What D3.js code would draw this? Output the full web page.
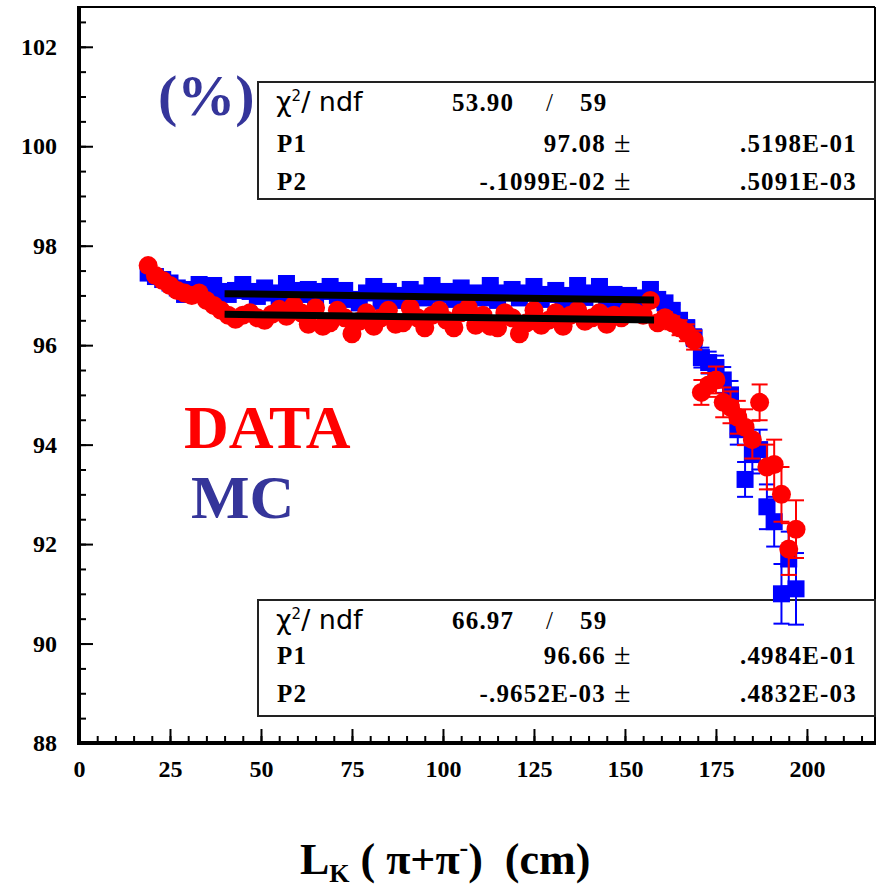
<!DOCTYPE html>
<html>
    <head>
    <meta charset="utf-8">
        <style>
            body { margin: 0; background: white; }
            .tick text {
                font-family: "Liberation Serif", serif;
                font-weight: bold;
                font-size: 24px;
                fill: black;
            }
            .tick line { stroke: black; stroke-width: 2; }
            .stat { font-family: "Liberation Serif", serif; font-weight: bold; font-size: 25px; letter-spacing: 1.2px; }
        </style>
        <script src="https://d3js.org/d3.v7.min.js"></script>
    </head>
    <body>
        <div id="my_dataviz"></div>
        <script>

            // bin centres (cm)
            var binCenters = [19,21,23,25,27,29,31,33,35,37,
                              39,41,43,45,47,49,51,53,55,57,
                              59,61,63,65,67,69,71,73,75,77,
                              79,81,83,85,87,89,91,93,95,97,
                              99,101,103,105,107,109,111,113,115,117,
                              119,121,123,125,127,129,131,133,135,137,
                              139,141,143,145,147,149,151,153,155,157,
                              159,161,163,165,167,169,171,173,175,177,
                              179,181,183,185,187,189,191,193,195,197];

            // MC efficiency (%)
            var mcValues = [97.45,97.38,97.32,97.25,97.15,97.02,97.12,97.22,97.05,97.20,
                            97.08,97.02,97.10,97.22,97.08,96.98,97.15,97.05,96.95,97.24,
                            97.10,97.02,97.12,96.95,97.08,97.18,97.00,97.10,96.92,96.85,
                            97.05,97.18,96.88,97.08,97.00,96.90,97.12,97.05,96.95,97.20,
                            97.02,97.08,96.92,97.15,97.00,97.05,96.95,97.20,96.90,97.05,
                            97.12,96.95,97.05,97.18,96.92,97.02,97.10,96.86,97.00,97.20,
                            96.96,97.05,97.18,96.92,97.02,96.90,97.00,96.86,96.95,97.12,
                            96.92,96.85,96.70,96.50,96.35,96.15,95.75,95.65,95.55,95.30,
                            95.00,94.30,93.30,93.80,93.90,92.75,92.45,91.00,91.70,91.10];
            var mcErrors = [0.06,0.06,0.06,0.06,0.06,0.06,0.06,0.06,0.06,0.06,
                            0.06,0.06,0.06,0.06,0.06,0.06,0.06,0.06,0.06,0.06,
                            0.06,0.06,0.06,0.06,0.06,0.06,0.06,0.06,0.06,0.06,
                            0.06,0.06,0.06,0.06,0.06,0.06,0.06,0.06,0.06,0.06,
                            0.06,0.06,0.06,0.06,0.06,0.06,0.06,0.06,0.06,0.06,
                            0.06,0.06,0.06,0.06,0.06,0.06,0.06,0.06,0.06,0.06,
                            0.06,0.06,0.06,0.06,0.06,0.07,0.07,0.07,0.07,0.08,
                            0.08,0.10,0.12,0.13,0.15,0.17,0.20,0.22,0.24,0.26,
                            0.28,0.30,0.35,0.38,0.40,0.45,0.50,0.60,0.55,0.72];

            // DATA efficiency (%)
            var dataValues = [97.60,97.40,97.30,97.20,97.10,97.05,97.00,97.05,96.90,96.80,
                              96.70,96.60,96.52,96.60,96.65,96.55,96.50,96.62,96.72,96.58,
                              96.80,96.65,96.42,96.75,96.38,96.45,96.70,96.55,96.23,96.48,
                              96.65,96.38,96.55,96.70,96.42,96.45,96.75,96.55,96.35,96.60,
                              96.70,96.50,96.35,96.65,96.75,96.40,96.60,96.38,96.35,96.65,
                              96.55,96.23,96.45,96.70,96.40,96.50,96.65,96.38,96.60,96.70,
                              96.48,96.55,96.65,96.42,96.60,96.55,96.70,96.65,96.60,96.90,
                              96.45,96.55,96.45,96.35,96.25,96.10,95.05,95.20,95.30,94.85,
                              94.75,94.55,94.35,94.10,94.85,93.55,93.60,93.00,91.90,92.30];
            var dataErrors = [0.07,0.07,0.07,0.07,0.07,0.07,0.07,0.07,0.07,0.07,
                              0.07,0.07,0.07,0.07,0.07,0.07,0.07,0.07,0.07,0.07,
                              0.07,0.07,0.07,0.07,0.07,0.07,0.07,0.07,0.07,0.07,
                              0.07,0.07,0.07,0.07,0.07,0.07,0.07,0.07,0.07,0.07,
                              0.07,0.07,0.07,0.07,0.07,0.07,0.07,0.07,0.07,0.07,
                              0.07,0.07,0.07,0.07,0.07,0.07,0.07,0.07,0.07,0.07,
                              0.07,0.07,0.07,0.07,0.07,0.08,0.08,0.08,0.08,0.08,
                              0.09,0.11,0.13,0.15,0.17,0.19,0.25,0.24,0.27,0.30,
                              0.32,0.33,0.36,0.38,0.36,0.45,0.50,0.55,0.52,0.58];

            // linear fits p1 + p2*x over the fit range
            var mcFit = [97.08, -0.001099];
            var dataFit = [96.66, -0.0009652];
            var fitRange = [40, 158];

            // stat box texts
            var mcStats = ["53.90", "59", "97.08", ".5198E-01", "-.1099E-02", ".5091E-03"];
            var dataStats = ["66.97", "59", "96.66", ".4984E-01", "-.9652E-03", ".4832E-03"];

            var xTicks = [0, 25, 50, 75, 100, 125, 150, 175, 200];
            var yTicks = [88, 90, 92, 94, 96, 98, 100, 102];

            var W = 881, H = 893;
            var pLeft = 79, pRight = 875, pTop = 7, pBottom = 743;

            var svg = d3.select("#my_dataviz").append("svg")
                .attr("width", W)
                .attr("height", H);

            var x = d3.scaleLinear().domain([0, 218.7]).range([pLeft, pRight]);
            var y = d3.scaleLinear().domain([88, 102.8]).range([pBottom, pTop]);

            var mc = binCenters.map(function(d, i) { return {x: d, v: mcValues[i], e: mcErrors[i]}; });
            var data = binCenters.map(function(d, i) { return {x: d, v: dataValues[i], e: dataErrors[i]}; });

            // minor ticks
            svg.append("g")
                .attr("transform", "translate(" + pLeft + ",0)")
                .call(d3.axisLeft(y).tickValues(d3.range(88, 102.8, 0.5)).tickSize(-7).tickFormat(""))
                .call(function(g) { g.select(".domain").remove(); });
            svg.append("g")
                .attr("transform", "translate(0," + pBottom + ")")
                .call(d3.axisBottom(x).tickValues(d3.range(0, 218, 5)).tickSize(-7).tickFormat(""))
                .call(function(g) { g.select(".domain").remove(); });

            // major ticks + labels
            svg.append("g")
                .attr("transform", "translate(" + pLeft + ",0)")
                .call(d3.axisLeft(y).tickValues(yTicks).tickSize(-14).tickPadding(22))
                .call(function(g) { g.select(".domain").remove(); });
            svg.append("g")
                .attr("transform", "translate(0," + pBottom + ")")
                .call(d3.axisBottom(x).tickValues(xTicks).tickSize(-14).tickPadding(17))
                .call(function(g) { g.select(".domain").remove(); });

            // frame
            svg.append("line").attr("x1", pLeft).attr("x2", pRight).attr("y1", pTop).attr("y2", pTop)
                .attr("stroke", "black").attr("stroke-width", 2);
            svg.append("line").attr("x1", pRight).attr("x2", pRight).attr("y1", pTop).attr("y2", pBottom)
                .attr("stroke", "black").attr("stroke-width", 2);
            svg.append("line").attr("x1", pLeft).attr("x2", pLeft).attr("y1", pTop - 1).attr("y2", pBottom + 2)
                .attr("stroke", "black").attr("stroke-width", 4);
            svg.append("line").attr("x1", pLeft - 2).attr("x2", pRight + 1).attr("y1", pBottom).attr("y2", pBottom)
                .attr("stroke", "black").attr("stroke-width", 4);

            // stat boxes
            function statBox(y0, h, s) {
                var g = svg.append("g");
                g.append("rect").attr("x", 258).attr("y", y0).attr("width", pRight - 258).attr("height", h)
                    .attr("fill", "white").attr("stroke", "#222").attr("stroke-width", 2);
                var r1 = y0 + 29, r2 = y0 + 70, r3 = y0 + 108;
                if (h < 117) { r1 = y0 + 29; r2 = y0 + 64; r3 = y0 + 102; }
                var chi = g.append("text").attr("x", 276).attr("y", r1)
                    .style("font-family", "DejaVu Sans ExtraLight, DejaVu Sans, sans-serif").style("font-size", "27px");
                chi.append("tspan").text("\u03c7");
                chi.append("tspan").attr("dy", -10).style("font-size", "15px").text("2");
                chi.append("tspan").attr("dy", 10).text("/ ndf");
                g.append("text").attr("class", "stat").attr("x", 452).attr("y", r1).text(s[0]);
                g.append("text").attr("class", "stat").attr("x", 546).attr("y", r1).style("font-weight", "normal").text("/");
                g.append("text").attr("class", "stat").attr("x", 580).attr("y", r1).text(s[1]);
                g.append("text").attr("class", "stat").attr("x", 277).attr("y", r2).text("P1");
                g.append("text").attr("class", "stat").attr("x", 277).attr("y", r3).text("P2");
                g.append("text").attr("class", "stat").attr("x", 606).attr("y", r2).attr("text-anchor", "end").text(s[2]);
                g.append("text").attr("class", "stat").attr("x", 606).attr("y", r3).attr("text-anchor", "end").text(s[4]);
                g.append("text").attr("class", "stat").attr("x", 614).attr("y", r2).style("font-weight", "normal").style("font-size", "30px").text("\u00b1");
                g.append("text").attr("class", "stat").attr("x", 614).attr("y", r3).style("font-weight", "normal").style("font-size", "30px").text("\u00b1");
                g.append("text").attr("class", "stat").attr("x", 857).attr("y", r2).attr("text-anchor", "end").text(s[3]);
                g.append("text").attr("class", "stat").attr("x", 857).attr("y", r3).attr("text-anchor", "end").text(s[5]);
            }
            statBox(82, 117, mcStats);
            statBox(600, 116, dataStats);

            // error bars
            function errBars(pts, col) {
                var g = svg.append("g").attr("stroke", col).attr("stroke-width", 2);
                g.selectAll("line.v").data(pts).enter().append("line")
                    .attr("x1", function(d) { return x(d.x); }).attr("x2", function(d) { return x(d.x); })
                    .attr("y1", function(d) { return y(d.v - d.e); }).attr("y2", function(d) { return y(d.v + d.e); });
                g.selectAll("line.lo").data(pts).enter().append("line")
                    .attr("x1", function(d) { return x(d.x) - 8; }).attr("x2", function(d) { return x(d.x) + 8; })
                    .attr("y1", function(d) { return y(d.v - d.e); }).attr("y2", function(d) { return y(d.v - d.e); });
                g.selectAll("line.hi").data(pts).enter().append("line")
                    .attr("x1", function(d) { return x(d.x) - 8; }).attr("x2", function(d) { return x(d.x) + 8; })
                    .attr("y1", function(d) { return y(d.v + d.e); }).attr("y2", function(d) { return y(d.v + d.e); });
            }

            // MC squares
            errBars(mc, "#0000ff");
            svg.append("g").selectAll("rect").data(mc).enter().append("rect")
                .attr("x", function(d) { return x(d.x) - 8.5; })
                .attr("y", function(d) { return y(d.v) - 8.5; })
                .attr("width", 17).attr("height", 17)
                .attr("fill", "#0000ff");

            // DATA circles
            errBars(data, "#ff0000");
            svg.append("g").selectAll("circle").data(data).enter().append("circle")
                .attr("cx", function(d) { return x(d.x); })
                .attr("cy", function(d) { return y(d.v); })
                .attr("r", 9.5)
                .attr("fill", "#ff0000");

            // fit lines
            [mcFit, dataFit].forEach(function(p) {
                svg.append("line")
                    .attr("x1", x(fitRange[0])).attr("x2", x(fitRange[1]))
                    .attr("y1", y(p[0] + p[1] * fitRange[0])).attr("y2", y(p[0] + p[1] * fitRange[1]))
                    .attr("stroke", "black").attr("stroke-width", 7);
            });

            // labels
            svg.append("text").attr("x", 158).attr("y", 115)
                .style("font-family", "Liberation Serif, serif").style("font-weight", "bold")
                .style("font-size", "58px").style("fill", "#35359a").text("(%)");
            svg.append("text").attr("x", 184).attr("y", 448)
                .style("font-family", "Liberation Serif, serif").style("font-weight", "bold")
                .style("font-size", "62px").style("fill", "#ff0000").text("DATA");
            svg.append("text").attr("x", 191).attr("y", 518)
                .style("font-family", "Liberation Serif, serif").style("font-weight", "bold")
                .style("font-size", "62px").style("fill", "#35359a").text("MC");

            // x axis title
            var t = svg.append("text").attr("x", 300).attr("y", 874)
                .style("font-family", "Liberation Serif, serif").style("font-weight", "bold")
                .style("font-size", "44px").style("fill", "black");
            t.append("tspan").text("L");
            t.append("tspan").attr("dy", 8).style("font-size", "26px").text("K");
            t.append("tspan").attr("dy", -8).attr("xml:space", "preserve").text(" ( \u03c0+\u03c0");
            t.append("tspan").attr("dy", -18).style("font-size", "26px").text("-");
            t.append("tspan").attr("dy", 18).text(")\u00a0\u00a0(cm)");

        </script>
    </body>
</html>
